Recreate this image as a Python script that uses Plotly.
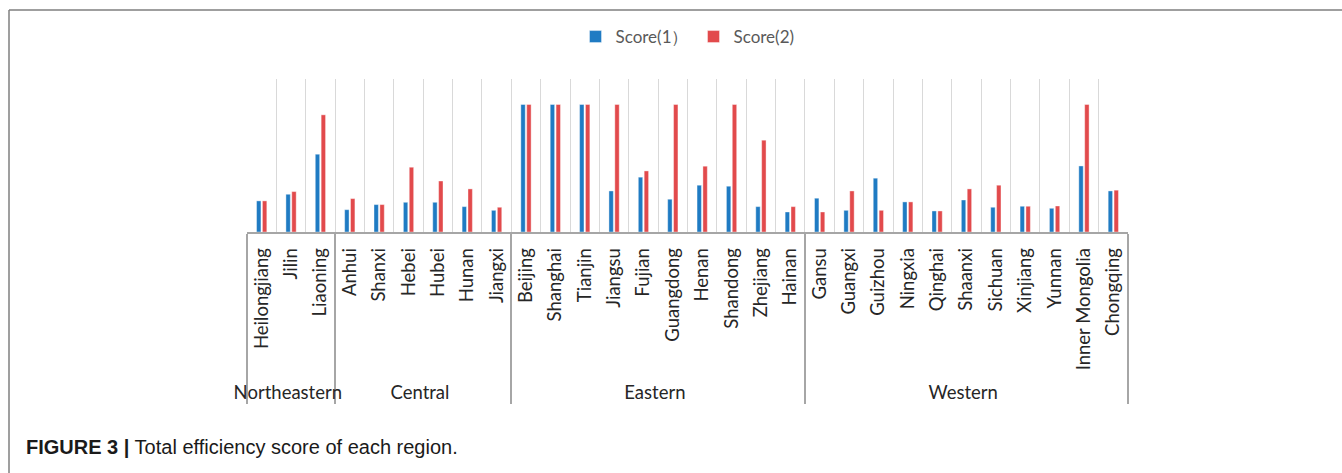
import plotly.graph_objects as go

regions = (["Northeastern"] * 3 + ["Central"] * 6 + ["Eastern"] * 10 + ["Western"] * 11)
provinces = ["Heilongjiang", "Jilin", "Liaoning",
             "Anhui", "Shanxi", "Hebei", "Hubei", "Hunan", "Jiangxi",
             "Beijing", "Shanghai", "Tianjin", "Jiangsu", "Fujian", "Guangdong",
             "Henan", "Shandong", "Zhejiang", "Hainan",
             "Gansu", "Guangxi", "Guizhou", "Ningxia", "Qinghai", "Shaanxi",
             "Sichuan", "Xinjiang", "Yunnan", "Inner Mongolia", "Chongqing"]
score1 = [0.244, 0.296, 0.610,
          0.175, 0.215, 0.233, 0.233, 0.199, 0.170,
          1.0, 1.0, 1.0, 0.322, 0.430, 0.257, 0.367, 0.359, 0.199, 0.157,
          0.265, 0.170, 0.422, 0.236, 0.165, 0.251, 0.194, 0.202, 0.186, 0.518, 0.322]
score2 = [0.244, 0.317, 0.919,
          0.262, 0.215, 0.508, 0.400, 0.338, 0.194,
          1.0, 1.0, 1.0, 1.0, 0.479, 1.0, 0.516, 1.0, 0.720, 0.199,
          0.157, 0.322, 0.170, 0.236, 0.165, 0.338, 0.367, 0.202, 0.204, 1.0, 0.328]

L, R, T, B = 247, 214, 79, 241
W, H = 1342, 473
pw, ph = W - L - R, H - T - B

def px(x):
    return (x - L) / pw

def py(y):
    return (H - B - y) / ph

fig = go.Figure()
fig.add_trace(go.Bar(x=[regions, provinces], y=score1, name="Score(1）",
                     marker=dict(color="#1F7BC3", line=dict(color="white", width=0.4))))
fig.add_trace(go.Bar(x=[regions, provinces], y=score2, name="Score(2)",
                     marker=dict(color="#E24A4C", line=dict(color="white", width=0.4))))

fig.update_layout(
    width=W, height=H,
    margin=dict(l=L, r=R, t=T, b=B, autoexpand=False),
    paper_bgcolor="white", plot_bgcolor="white",
    barmode="group", bargap=0.6, bargroupgap=0.25,
    font=dict(family="Lato, Open Sans, sans-serif", size=18.5, color="#262626"),
    legend=dict(orientation="h", x=0.5, xanchor="center", xref="paper",
                y=1 - 37 / H, yref="container", yanchor="middle",
                font=dict(size=17, color="#595959"), itemwidth=30),
    xaxis=dict(type="multicategory", tickson="boundaries", showgrid=True,
               gridcolor="#D9D9D9", gridwidth=1, showline=True,
               linecolor="#A6A6A6", linewidth=1.5, ticks="", tickangle=-90,
               ticklabelstandoff=7,
               showdividers=True, dividercolor="#A6A6A6", dividerwidth=1.5,
               tickfont=dict(size=18.5, color="#262626")),
    yaxis=dict(range=[0, 1.2], visible=False, showgrid=False, zeroline=False),
    shapes=[
        dict(type="line", xref="paper", yref="paper", x0=px(9), x1=px(W), y0=py(10), y1=py(10),
             line=dict(color="#7F7F7F", width=1.5)),
        dict(type="line", xref="paper", yref="paper", x0=px(9), x1=px(9), y0=py(10), y1=py(H),
             line=dict(color="#7F7F7F", width=1.5)),
    ],
    annotations=[
        dict(text="<b>FIGURE 3 |</b> Total efficiency score of each region.",
             xref="paper", yref="paper", x=px(24), y=py(447), xanchor="left", yanchor="middle",
             showarrow=False, font=dict(family="Liberation Sans, Arial, sans-serif", size=20, color="#1a1a1a")),
    ],
)

fig.write_html("out.html")
